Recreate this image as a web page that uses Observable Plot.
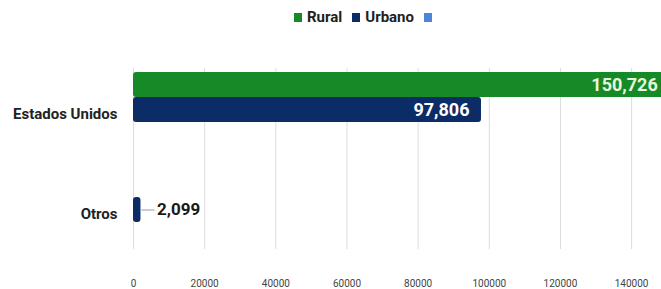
<!DOCTYPE html>
<html>
<head>
<meta charset="utf-8">
<script src="https://cdn.jsdelivr.net/npm/d3@7"></script>
<script src="https://cdn.jsdelivr.net/npm/@observablehq/plot@0.6"></script>
<style>
  body { margin: 0; background: #fff; font-family: Roboto, "DejaVu Sans", sans-serif; }
  #legend { height: 34px; display: flex; justify-content: center; align-items: center; padding-left: 80px; box-sizing: border-box; width: 661px; font-weight: 700; font-size: 15px; color: #222; }
  .item { display: flex; align-items: center; margin-right: 10px; }
  .sw { width: 8px; height: 9px; margin-right: 5px; }
</style>
</head>
<body>
<div id="legend"></div>
<div id="chart"></div>
<script>
const categories = ["Estados Unidos", "Otros"];
const series = ["Rural", "Urbano", ""];
const seriesColors = ["#168a26", "#0c2c68", "#4f84d8"];
const rural = [150726, 0];
const urbano = [97806, 2099];
const xTicks = [0, 20000, 40000, 60000, 80000, 100000, 120000, 140000];

// legend
const legend = document.getElementById("legend");
series.forEach((s, i) => {
  const it = document.createElement("div");
  it.className = "item";
  const sw = document.createElement("span");
  sw.className = "sw";
  sw.style.background = seriesColors[i];
  it.appendChild(sw);
  if (s) { const t = document.createElement("span"); t.textContent = s; it.appendChild(t); }
  legend.appendChild(it);
});

const rows = [];
categories.forEach((c, i) => {
  rows.push({cat: c, series: "Rural", value: rural[i]});
  rows.push({cat: c, series: "Urbano", value: urbano[i]});
});
const key = d => d.cat + "|" + d.series;
const yDomain = [
  "Estados Unidos|Rural", "Estados Unidos|Urbano", "gap1", "gap2", "Otros|Rural", "Otros|Urbano"
];
const shown = rows.filter(d => d.value > 0);
const big = shown.filter(d => d.value > 10000);
const small = shown.filter(d => d.value <= 10000);
const fmt = d3.format(",");

const chart = Plot.plot({
  width: 661,
  height: 255,
  marginLeft: 133,
  marginRight: 0,
  marginTop: 34,
  marginBottom: 40,
  style: {fontFamily: "Roboto, 'DejaVu Sans', sans-serif", background: "#fff"},
  x: {domain: [0, 148400], ticks: xTicks},
  y: {domain: yDomain, range: [38, 188], padding: 0, axis: null},
  color: {domain: ["Rural", "Urbano"], range: [seriesColors[0], seriesColors[1]]},
  marks: [
    Plot.gridX(xTicks, {stroke: "#dcdcdc", strokeOpacity: 1}),
    Plot.axisX(xTicks, {tickSize: 0, tickPadding: 30, tickFormat: d => String(d), fontSize: 10, fill: "#444", label: null}),
    Plot.barX(shown, {x: "value", y: key, fill: "series", rx: 3, clip: true}),
    Plot.text(big, {
      x: "value", y: key, text: d => fmt(d.value), textAnchor: "end",
      dx: -12, fill: d => d.series === "Rural" ? "#e9f6dc" : "#ffffff",
      fontWeight: 700, fontSize: 18
    }),
    Plot.ruleY(small, {x1: "value", x2: "value", y: key, insetLeft: 1, insetRight: -14, stroke: "#999"}),
    Plot.text(small, {
      x: "value", y: key, text: d => fmt(d.value), textAnchor: "start",
      dx: 16, fill: "#1a1a1a", fontWeight: 700, fontSize: 17
    }),
    Plot.text(categories, {
      y: d => d + "|Urbano", frameAnchor: "left", text: d => d, textAnchor: "end",
      dx: -16, dy: 4, fill: "#222", fontWeight: 700, fontSize: 15
    })
  ]
});
document.getElementById("chart").appendChild(chart);
</script>
</body>
</html>
